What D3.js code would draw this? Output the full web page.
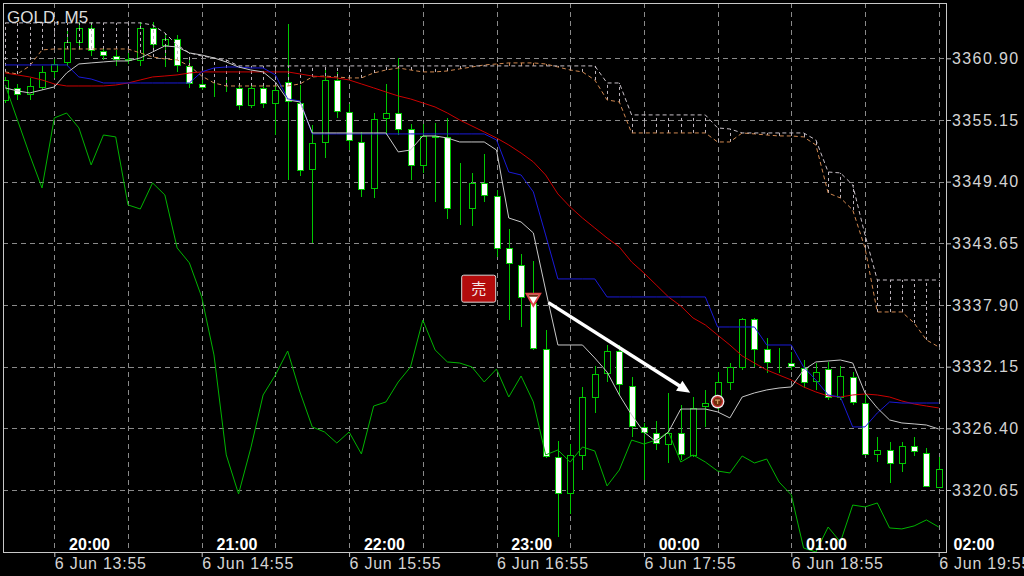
<!DOCTYPE html>
<html>
<head>
<meta charset="utf-8">
<script src="https://cdn.jsdelivr.net/npm/d3@7"></script>
<style>
html, body { margin: 0; padding: 0; background: #000; }
svg { display: block; }
</style>
</head>
<body>
<svg id="chart"></svg>
<script>
// bar index: 0 = 6 Jun 13:55 (M5), bars -4 .. 72
var barIndex = d3.range(-4, 73);

// candles
var opens = [3357.02, 3358.13, 3357.58, 3358.23,
  3359.72, 3360.56, 3362.42, 3363.73, 3361.59, 3361.12, 3360.75, 3360.75, 3363.73, 3362.14,
  3362.70, 3360.19, 3358.51, 3358.13, 3358.09, 3358.13, 3356.55, 3358.13, 3356.74, 3358.69,
  3356.74, 3350.58, 3353.10, 3358.88, 3355.90, 3353.10, 3348.81, 3355.34, 3355.80, 3354.31,
  3350.96, 3353.66, 3353.57, 3346.85, 3346.95, 3349.28, 3348.07, 3343.22, 3341.63, 3338.09,
  3333.80, 3323.73, 3320.37, 3323.92, 3329.32, 3331.56, 3333.61, 3330.35, 3326.53, 3325.97,
  3324.94, 3325.97, 3323.92, 3328.48, 3328.76, 3330.72, 3332.12, 3336.60, 3333.80, 3332.49,
  3332.49, 3332.03, 3330.82, 3331.93, 3329.32, 3331.19, 3328.76, 3324.01, 3324.38, 3323.17,
  3324.75, 3324.10, 3320.93];
var highs = [3359.16, 3358.51, 3359.06, 3360.19,
  3360.84, 3363.54, 3364.29, 3364.29, 3362.05, 3361.68, 3361.40, 3364.29, 3364.29, 3363.08,
  3363.08, 3361.03, 3358.88, 3358.79, 3358.88, 3358.41, 3358.51, 3358.51, 3358.51, 3364.10,
  3358.41, 3354.68, 3360.00, 3359.62, 3356.64, 3354.03, 3355.80, 3358.51, 3360.93, 3354.78,
  3354.78, 3354.87, 3355.34, 3351.14, 3350.21, 3351.98, 3348.62, 3344.99, 3342.66, 3342.00,
  3335.57, 3325.22, 3324.94, 3330.26, 3332.21, 3334.17, 3334.17, 3331.19, 3326.90, 3327.09,
  3329.70, 3328.58, 3329.32, 3329.98, 3331.65, 3332.49, 3336.69, 3336.69, 3334.82, 3333.89,
  3333.52, 3332.77, 3332.49, 3332.59, 3332.21, 3331.65, 3329.70, 3325.59, 3325.13, 3325.13,
  3325.59, 3324.57, 3323.73];
var lows = [3356.74, 3357.02, 3357.02, 3357.95,
  3359.06, 3360.19, 3361.68, 3361.12, 3360.75, 3360.19, 3360.38, 3360.19, 3361.86, 3360.09,
  3359.62, 3358.13, 3357.95, 3357.30, 3357.76, 3356.08, 3356.27, 3356.27, 3353.75, 3349.56,
  3349.93, 3343.68, 3351.61, 3355.34, 3352.35, 3347.97, 3347.88, 3353.75, 3353.75, 3349.56,
  3350.21, 3347.51, 3345.92, 3345.36, 3345.27, 3347.51, 3342.38, 3336.50, 3335.85, 3333.71,
  3323.64, 3316.27, 3318.42, 3322.52, 3327.83, 3330.72, 3329.51, 3325.59, 3321.58, 3324.38,
  3323.17, 3323.45, 3323.73, 3326.53, 3328.11, 3329.98, 3331.84, 3332.12, 3331.56, 3331.56,
  3331.84, 3330.16, 3329.98, 3329.04, 3329.04, 3328.58, 3323.92, 3323.26, 3321.31, 3322.33,
  3323.82, 3320.93, 3320.84];
var closes = [3358.88, 3357.58, 3358.32, 3359.62,
  3360.38, 3362.42, 3363.73, 3361.68, 3361.21, 3360.84, 3360.84, 3363.73, 3362.24, 3362.70,
  3360.28, 3358.60, 3358.23, 3358.09, 3358.13, 3356.55, 3358.13, 3356.74, 3357.95, 3356.92,
  3350.49, 3353.01, 3358.88, 3355.99, 3353.29, 3348.72, 3355.24, 3355.80, 3354.31, 3350.96,
  3353.66, 3353.61, 3346.95, 3346.81, 3349.28, 3348.16, 3343.22, 3341.82, 3338.65, 3333.89,
  3323.82, 3320.37, 3323.92, 3329.32, 3331.47, 3333.61, 3330.54, 3326.62, 3326.06, 3325.03,
  3325.97, 3324.01, 3328.30, 3328.76, 3330.72, 3332.12, 3336.60, 3333.80, 3332.59, 3332.45,
  3332.21, 3330.72, 3331.65, 3329.32, 3331.28, 3328.86, 3324.01, 3324.38, 3323.17, 3324.75,
  3324.29, 3321.03, 3322.61];

// 一目均衡表 + MA
var tenkan = [3358.14, 3357.86, 3357.67, 3357.95,
  3358.23, 3359.53, 3360.37, 3360.47, 3360.56, 3360.65, 3360.65, 3360.93, 3361.49, 3362.05,
  3361.96, 3361.40, 3361.21, 3360.93, 3360.56, 3360.09, 3359.81, 3359.63, 3358.69, 3357.02,
  3356.83, 3353.94, 3353.94, 3353.94, 3353.94, 3353.94, 3353.94, 3353.94, 3352.17, 3352.35,
  3353.66, 3353.66, 3353.47, 3353.10, 3353.10, 3353.10, 3352.35, 3346.01, 3345.64, 3344.62,
  3339.30, 3334.17, 3334.17, 3334.17, 3332.96, 3331.65, 3329.51, 3327.65, 3326.06, 3325.13,
  3326.06, 3328.20, 3328.20, 3328.20, 3327.93, 3327.37, 3329.32, 3329.70, 3329.98, 3330.16,
  3330.26, 3331.84, 3332.59, 3332.68, 3332.77, 3332.49, 3329.70, 3328.30, 3327.18, 3326.90,
  3326.81, 3326.71, 3326.34];
var kijun = [3360.28, 3360.28, 3360.28, 3360.28,
  3360.28, 3360.28, 3359.16, 3358.97, 3358.60, 3358.60, 3358.60, 3358.60, 3358.60, 3358.60,
  3358.60, 3358.60, 3359.63, 3360.00, 3360.09, 3360.09, 3360.00, 3360.00, 3359.35, 3357.11,
  3356.92, 3353.85, 3353.85, 3353.85, 3353.85, 3353.85, 3353.85, 3353.85, 3353.85, 3353.85,
  3353.85, 3353.85, 3353.85, 3353.85, 3353.85, 3353.85, 3353.29, 3350.30, 3350.02, 3348.44,
  3344.43, 3340.33, 3340.33, 3340.33, 3340.33, 3338.65, 3338.65, 3338.65, 3338.65, 3338.65,
  3338.65, 3338.65, 3338.65, 3338.65, 3335.85, 3335.85, 3335.85, 3335.85, 3334.17, 3334.17,
  3334.17, 3332.12, 3330.91, 3329.51, 3329.32, 3326.53, 3326.53, 3327.83, 3328.86, 3328.76,
  3328.76, 3328.76, 3328.76];
var maLine = [3359.53, 3359.35, 3359.16, 3358.88,
  3358.51, 3358.32, 3358.32, 3358.32, 3358.32, 3358.41, 3358.60, 3358.88, 3359.16, 3359.25,
  3359.35, 3359.53, 3359.63, 3359.63, 3359.63, 3359.63, 3359.63, 3359.63, 3359.63, 3359.63,
  3359.44, 3359.25, 3359.16, 3359.07, 3358.88, 3358.51, 3358.14, 3357.76, 3357.39, 3357.11,
  3356.74, 3356.36, 3355.80, 3355.15, 3354.59, 3354.03, 3353.47, 3352.82, 3352.07, 3351.24,
  3350.02, 3348.25, 3347.04, 3346.01, 3345.08, 3344.15, 3343.31, 3341.91, 3340.89, 3339.77,
  3338.65, 3337.81, 3336.69, 3336.04, 3335.10, 3334.17, 3333.15, 3332.49, 3331.84, 3331.37,
  3330.91, 3330.26, 3329.79, 3329.42, 3329.32, 3329.51, 3329.60, 3329.51, 3329.32, 3328.95,
  3328.67, 3328.48, 3328.30];
var chikou = [3358.41, 3355.15, 3351.89, 3348.81,
  3355.34, 3355.80, 3354.41, 3350.96, 3353.75, 3353.57, 3347.23, 3346.85, 3349.28, 3348.16,
  3343.22, 3341.82, 3338.65, 3333.24, 3323.92, 3320.28, 3324.57, 3329.51, 3331.37, 3333.61,
  3329.79, 3326.53, 3326.06, 3325.03, 3326.06, 3324.01, 3328.48, 3328.86, 3330.72, 3332.12,
  3336.50, 3333.71, 3332.59, 3332.49, 3332.12, 3330.72, 3331.93, 3329.32, 3331.28, 3328.86,
  3323.92, 3324.38, 3323.26, 3324.66, 3324.29, 3321.03, 3322.52, 3325.31, 3324.94, 3325.31,
  3326.06, 3323.26, 3323.92, 3323.26, 3322.42, 3322.24, 3323.82, 3323.17, 3323.54, 3321.40,
  3320.19, 3315.24, 3314.87, 3317.20, 3315.80, 3319.25, 3319.07, 3319.44, 3317.11, 3317.02,
  3317.30, 3317.86, 3317.20];
var spanA = [3359.63, 3359.44, 3360.19, 3361.68,
  3361.77, 3361.77, 3361.77, 3361.77, 3361.77, 3361.77, 3361.77, 3361.40, 3361.03, 3360.84,
  3360.75, 3360.19, 3359.25, 3358.60, 3358.32, 3358.32, 3358.32, 3358.32, 3358.32, 3358.32,
  3358.51, 3359.16, 3359.25, 3359.16, 3359.07, 3359.07, 3359.53, 3359.81, 3360.00, 3359.81,
  3359.63, 3359.63, 3359.72, 3359.91, 3360.09, 3360.28, 3360.37, 3360.47, 3360.47, 3360.47,
  3360.37, 3360.09, 3359.81, 3359.63, 3358.88, 3357.02, 3356.83, 3353.94, 3353.94, 3353.94,
  3353.94, 3353.94, 3353.94, 3353.94, 3353.10, 3353.10, 3353.94, 3353.85, 3353.75, 3353.66,
  3353.66, 3353.57, 3352.82, 3348.34, 3347.88, 3346.76, 3343.22, 3337.25, 3337.25, 3337.25,
  3336.22, 3334.64, 3333.99];
var spanB = [3364.20, 3364.20, 3364.20, 3364.20,
  3364.20, 3364.20, 3364.20, 3364.20, 3364.20, 3364.20, 3364.20, 3364.20, 3364.01, 3363.26,
  3362.14, 3361.40, 3361.12, 3360.93, 3360.75, 3360.19, 3360.19, 3360.19, 3360.19, 3360.19,
  3360.19, 3360.19, 3360.19, 3360.19, 3360.19, 3360.19, 3360.19, 3360.19, 3360.19, 3360.19,
  3360.19, 3360.19, 3360.19, 3360.19, 3360.19, 3360.19, 3360.19, 3360.19, 3360.19, 3360.19,
  3360.19, 3360.19, 3360.19, 3360.19, 3360.19, 3358.60, 3358.60, 3355.62, 3355.62, 3355.62,
  3355.62, 3355.62, 3355.62, 3355.62, 3354.41, 3354.31, 3353.94, 3353.94, 3353.94, 3353.94,
  3353.94, 3353.94, 3353.29, 3350.30, 3350.21, 3349.09, 3344.43, 3340.23, 3340.23, 3340.23,
  3340.23, 3340.23, 3340.23];

// axes
var priceTicks = [3360.90, 3355.15, 3349.40, 3343.65, 3337.90, 3332.15, 3326.40, 3320.65];
var gridBars = [0, 6, 12, 18, 24, 30, 36, 42, 48, 54, 60, 66, 72];
var timeTickBars = [0, 12, 24, 36, 48, 60, 72];
var timeTickLabels = ["6 Jun 13:55", "6 Jun 14:55", "6 Jun 15:55", "6 Jun 16:55",
  "6 Jun 17:55", "6 Jun 18:55", "6 Jun 19:55"];
var localTickBars = [1, 13, 25, 37, 49, 61, 73];
var localTickLabels = ["20:00", "21:00", "22:00", "23:00", "00:00", "01:00", "02:00"];

// trade marks (bar, price)
var sellLabel = {bar: 34.55, price: 3339.42, text: "売"};
var sellMark = {bar: 39, price: 3337.65};
var tradeArrow = {from: [40.23, 3338.12], to: [51.77, 3329.72]};
var closeMark = {bar: 54, price: 3328.89};

var drawChart = function(){
    var width = 1024, height = 576;
    var box = {left: 3, top: 3, right: 946, bottom: 552};
    var font = "'Liberation Sans', Arial, sans-serif";

    var svg = d3.select("#chart").attr("width", width).attr("height", height);
    svg.append("rect").attr("width", width).attr("height", height).attr("fill", "#000");

    var x = d3.scaleLinear().domain([0, 72]).range([54.3, 938.7]);
    var y = d3.scaleLinear().domain([3320.65, 3360.90]).range([490, 58.3]);
    var px = function(i){ return Math.round(x(i)) + 0.5; };

    svg.append("defs").append("clipPath").attr("id", "plotClip")
        .append("rect")
        .attr("x", box.left).attr("y", box.top)
        .attr("width", box.right - box.left).attr("height", box.bottom - box.top);

    // グリッド
    var grid = svg.append("g").attr("stroke", "#8a8a8a").attr("stroke-dasharray", "5,4")
        .attr("shape-rendering", "crispEdges");
    grid.selectAll(".hg").data(priceTicks).enter().append("line")
        .attr("x1", box.left).attr("x2", box.right)
        .attr("y1", function(d){ return Math.round(y(d)) + 0.5; })
        .attr("y2", function(d){ return Math.round(y(d)) + 0.5; });
    grid.selectAll(".vg").data(gridBars).enter().append("line")
        .attr("y1", box.top).attr("y2", box.bottom)
        .attr("x1", function(d){ return px(d); })
        .attr("x2", function(d){ return px(d); });

    var plot = svg.append("g").attr("clip-path", "url(#plotClip)");

    // ローソク足
    var candle = plot.append("g").selectAll("g").data(barIndex).enter().append("g");
    candle.append("line")
        .attr("x1", function(d){ return px(d); })
        .attr("x2", function(d){ return px(d); })
        .attr("y1", function(d, k){ return y(highs[k]); })
        .attr("y2", function(d, k){ return y(lows[k]); })
        .attr("stroke", "#00c800").attr("shape-rendering", "crispEdges");
    candle.append("rect")
        .attr("x", function(d){ return Math.round(x(d)) - 3 + 0.5; })
        .attr("width", 6)
        .attr("y", function(d, k){ return Math.round(Math.min(y(opens[k]), y(closes[k]))) + 0.5; })
        .attr("height", function(d, k){ return Math.round(Math.abs(y(opens[k]) - y(closes[k]))); })
        .attr("fill", function(d, k){ return closes[k] >= opens[k] ? "#000" : "#fff"; })
        .attr("stroke", "#00c800").attr("shape-rendering", "crispEdges");

    // 雲
    plot.append("g").selectAll("line").data(barIndex).enter().append("line")
        .attr("x1", function(d){ return px(d); })
        .attr("x2", function(d){ return px(d); })
        .attr("y1", function(d, k){ return y(spanA[k]); })
        .attr("y2", function(d, k){ return y(spanB[k]); })
        .attr("stroke", function(d, k){ return spanA[k] > spanB[k] ? "#c98552" : "#bdb5bd"; })
        .attr("stroke-dasharray", "3,3");

    var line = function(values){
        return d3.line()
            .x(function(d, k){ return x(barIndex[k]); })
            .y(function(d){ return y(d); })(values);
    };
    var series = [
        {v: spanA, c: "#d08850", dash: "4,3"},
        {v: spanB, c: "#c8c0c8", dash: "4,3"},
        {v: chikou, c: "#00b400"},
        {v: maLine, c: "#cc0000"},
        {v: kijun, c: "#1a1ad8"},
        {v: tenkan, c: "#c8c8c8"}
    ];
    plot.append("g").selectAll("path").data(series).enter().append("path")
        .attr("d", function(s){ return line(s.v); })
        .attr("fill", "none")
        .attr("stroke", function(s){ return s.c; })
        .attr("stroke-width", 1)
        .attr("stroke-dasharray", function(s){ return s.dash || null; });

    // 売りサイン
    var ann = plot.append("g");
    var lx = x(sellLabel.bar), ly = y(sellLabel.price);
    ann.append("rect")
        .attr("x", lx - 17).attr("y", ly - 13.5).attr("width", 34).attr("height", 27)
        .attr("rx", 2).attr("fill", "#b30c0c").attr("stroke", "#d8d8d8").attr("stroke-width", 1);
    ann.append("text")
        .attr("x", lx).attr("y", ly + 5.5).attr("text-anchor", "middle")
        .attr("fill", "#f4e8e8")
        .style("font", "15px 'Noto Sans CJK JP', sans-serif")
        .text(sellLabel.text);

    var tx = x(sellMark.bar), ty = y(sellMark.price);
    ann.append("path")
        .attr("d", "M" + (tx - 8.5) + "," + (ty - 15) + "L" + (tx + 8.5) + "," + (ty - 15) + "L" + tx + "," + ty + "Z")
        .attr("fill", "#e04646");
    ann.append("path")
        .attr("d", "M" + (tx - 5.3) + "," + (ty - 13) + "L" + (tx + 5.3) + "," + (ty - 13) + "L" + tx + "," + (ty - 4) + "Z")
        .attr("fill", "#fff");
    ann.append("path")
        .attr("d", "M" + (tx - 5.3) + "," + (ty - 13) + "L" + (tx + 5.3) + "," + (ty - 13) +
              "L" + (tx + 4) + "," + (ty - 10.8) + "L" + (tx - 4) + "," + (ty - 10.8) + "Z")
        .attr("fill", "#6a2a10");

    // 矢印
    var ax1 = x(tradeArrow.from[0]), ay1 = y(tradeArrow.from[1]);
    var ax2 = x(tradeArrow.to[0]), ay2 = y(tradeArrow.to[1]);
    var len = Math.hypot(ax2 - ax1, ay2 - ay1);
    var ux = (ax2 - ax1) / len, uy = (ay2 - ay1) / len;
    var bx = ax2 - ux * 13, by = ay2 - uy * 13;
    ann.append("line")
        .attr("x1", ax1).attr("y1", ay1).attr("x2", bx + ux * 2).attr("y2", by + uy * 2)
        .attr("stroke", "#fff").attr("stroke-width", 3.5);
    ann.append("path")
        .attr("d", "M" + ax2 + "," + ay2 +
              "L" + (bx - uy * 6) + "," + (by + ux * 6) +
              "L" + (bx + uy * 6) + "," + (by - ux * 6) + "Z")
        .attr("fill", "#fff");

    // 決済マーク
    var cx = x(closeMark.bar), cy = y(closeMark.price);
    ann.append("circle").attr("cx", cx).attr("cy", cy).attr("r", 6.8).attr("fill", "#eeeeee");
    ann.append("circle").attr("cx", cx).attr("cy", cy).attr("r", 5.5).attr("fill", "#c83232");
    ann.append("circle").attr("cx", cx).attr("cy", cy).attr("r", 4.2).attr("fill", "#6b2b0b");
    ann.append("path")
        .attr("d", "M" + (cx - 2.5) + "," + (cy - 1.5) + "L" + (cx + 2.5) + "," + (cy - 1.5) +
              "M" + cx + "," + (cy - 1.5) + "L" + cx + "," + (cy + 2.5))
        .attr("stroke", "#d09a60").attr("stroke-width", 1.2);

    // 枠
    svg.append("rect")
        .attr("x", box.left + 0.5).attr("y", box.top + 0.5)
        .attr("width", box.right - box.left).attr("height", box.bottom - box.top)
        .attr("fill", "none").attr("stroke", "#c8c8c8").attr("shape-rendering", "crispEdges");

    // 価格軸
    var gy = svg.append("g").attr("transform", "translate(" + box.right + ",0)")
        .call(d3.axisRight(y).tickValues(priceTicks).tickFormat(d3.format(".2f")).tickSize(5).tickPadding(1));
    gy.select(".domain").remove();
    gy.selectAll("line").attr("stroke", "#c8c8c8");
    gy.selectAll("text").attr("fill", "#d4d4d4")
        .style("font", "16px " + font).style("letter-spacing", "1.4px");

    // 時間軸
    var gx = svg.append("g").attr("transform", "translate(0," + box.bottom + ")")
        .call(d3.axisBottom(x).tickValues(timeTickBars)
            .tickFormat(function(d, k){ return timeTickLabels[k]; }).tickSize(5).tickPadding(1));
    gx.select(".domain").remove();
    gx.selectAll("line").attr("stroke", "#c8c8c8");
    gx.selectAll("text").attr("fill", "#d4d4d4").attr("text-anchor", "start")
        .style("font", "16px " + font).style("letter-spacing", "0.75px");

    var gt = svg.append("g").attr("transform", "translate(0," + box.bottom + ")")
        .call(d3.axisTop(x).tickValues(localTickBars)
            .tickFormat(function(d, k){ return localTickLabels[k]; }).tickSize(0).tickPadding(2));
    gt.select(".domain").remove();
    gt.selectAll("text").attr("fill", "#ffffff").attr("text-anchor", "start").attr("dx", 2)
        .style("font", "bold 16px " + font);

    // タイトル
    svg.append("text").attr("x", 7).attr("y", 23)
        .attr("fill", "#dcdcdc").style("font", "17px " + font)
        .text("GOLD, M5");
};

var main = function(){
    drawChart();
}();
</script>
</body>
</html>
